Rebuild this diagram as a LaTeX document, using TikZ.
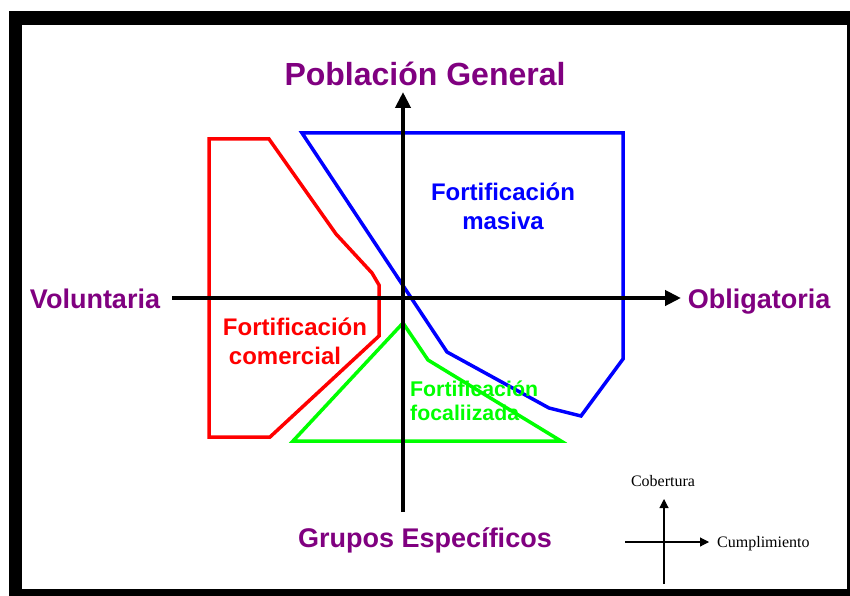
\documentclass[tikz,border=0pt]{standalone}
\usepackage{fontspec}
\setmainfont{Liberation Serif}
\newfontfamily\arialb{Liberation Sans}[BoldFont={Liberation Sans Bold}]
\usetikzlibrary{arrows.meta}
\definecolor{purp}{RGB}{128,0,128}
\definecolor{grn}{RGB}{0,255,0}
\tikzset{
  axisline/.style={line width=4pt,-{Triangle[length=16pt,width=15pt]}},
  smallaxis/.style={line width=1.1pt,-{Triangle[length=9pt,width=9pt]}},
  region/.style={line width=3.5pt,line join=miter},
  axislabel/.style={text=purp,font=\arialb\bfseries\fontsize{27}{30}\selectfont,inner sep=0pt,anchor=base},
  regionlabel/.style={font=\arialb\bfseries\fontsize{24}{28.5}\selectfont,inner sep=0pt,align=center},
  legendlabel/.style={font=\fontsize{16}{18}\selectfont,inner sep=0pt,anchor=base}
}
\begin{document}
\begin{tikzpicture}[x=1pt,y=-1pt]
\useasboundingbox (0,0) rectangle (850,596);
% frame
\fill[black] (9,11) rectangle (850,596);
\fill[white] (22,25) rectangle (847,589);
% regions
\draw[region,red] (209,139) -- (269,139) -- (336,234) -- (372,273) -- (379,285) -- (379,336) -- (270,437) -- (209,437) -- cycle;
\draw[region,blue] (302,133) -- (623,133) -- (623,359) -- (581,416) -- (549,408) -- (447,352) -- cycle;
\draw[region,grn] (293,441) -- (403,323) -- (428,360) -- (561,441) -- cycle;
% axes
\coordinate (hl) at (172,298);
\coordinate (hr) at (681,298);
\coordinate (vb) at (403,512);
\coordinate (vt) at (403,92);
\draw[axisline] (hl) -- (hr);
\draw[axisline] (vb) -- (vt);
% axis labels
\node[axislabel,font=\arialb\bfseries\fontsize{32}{36}\selectfont] (pg) at (425,86) {Población General};
\node[axislabel] (vol) at (95,308) {Voluntaria};
\node[axislabel] (obl) at (759,308) {Obligatoria};
\node[axislabel] (ge) at (425,547) {Grupos Específicos};
% region labels
\node[regionlabel,text=blue,anchor=base] (fm) at (503,229) {Fortificación\\masiva};
\node[regionlabel,text=red,anchor=base] (fc) at (295,364) {Fortificación\\comercial\hspace*{20pt}};
\node[regionlabel,text=grn,align=left,anchor=base west,font=\arialb\bfseries\fontsize{21.3}{24}\selectfont] (ff) at (410,420) {Fortificación\\focaliizada};
% legend
\coordinate (lvb) at (664,584);
\coordinate (lvt) at (664,499);
\coordinate (lhl) at (625,542);
\coordinate (lhr) at (709,542);
\draw[smallaxis] (lvb) -- (lvt);
\draw[smallaxis] (lhl) -- (lhr);
\node[legendlabel] (cob) at (663,486) {Cobertura};
\node[legendlabel,anchor=base west] (cum) at (717,547) {Cumplimiento};
\end{tikzpicture}
\end{document}
